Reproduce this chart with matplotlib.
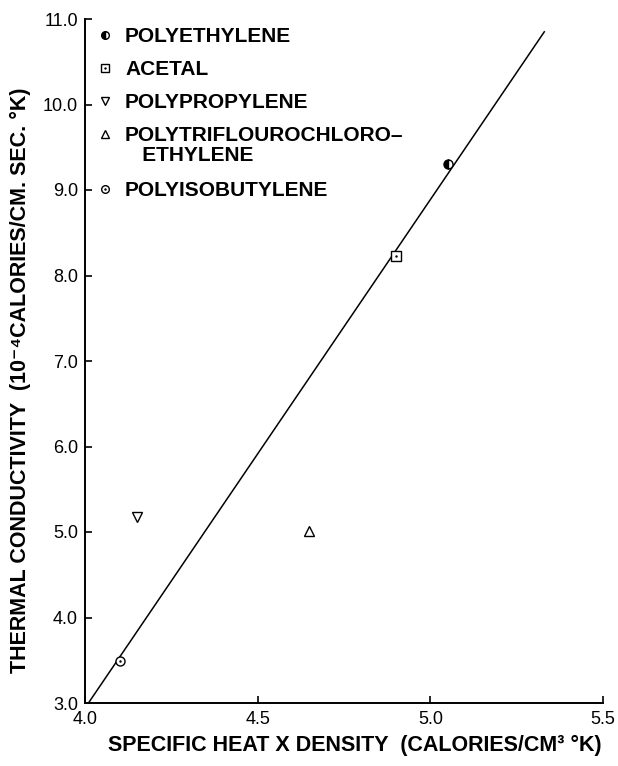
import matplotlib.pyplot as plt

# values
materials = ['POLYETHYLENE', 'ACETAL', 'POLYPROPYLENE',
             'POLYTRIFLOUROCHLORO\u2013\n   ETHYLENE', 'POLYISOBUTYLENE']
heat_x_density = [5.05, 4.90, 4.15, 4.65, 4.10]
conductivity = [9.30, 8.23, 5.18, 5.01, 3.49]
line_x = [4.01, 5.33]
line_y = [3.0, 10.85]
xticks = [4.0, 4.5, 5.0, 5.5]
yticks = [3.0, 4.0, 5.0, 6.0, 7.0, 8.0, 9.0, 10.0, 11.0]

# marker, fillstyle, dot in the middle
styles = [('o', 'left', False), ('s', 'none', True), ('v', 'none', False),
          ('^', 'none', False), ('o', 'none', True)]

W, H = 618, 766
fig = plt.figure(figsize=(W / 100, H / 100), dpi=100)
ax = fig.add_axes([85 / W, 1 - 703 / H, (603 - 85) / W, (703 - 19) / H])

fonts = ['Liberation Sans', 'DejaVu Sans']


def marker_lines(x, y, style, ms, **kw):
    m, fs, dot = style
    out = []
    if fs == 'left':
        out.append(plt.Line2D(x, y, marker=m, ms=ms, ls='none', fillstyle='left',
                              markerfacecolor='black', markerfacecoloralt='white',
                              markeredgecolor='black', mew=1.0, clip_on=False, **kw))
    else:
        out.append(plt.Line2D(x, y, marker=m, ms=ms, ls='none', markerfacecolor='white',
                              markeredgecolor='black', mew=1.0, clip_on=False, **kw))
    if dot:
        out.append(plt.Line2D(x, y, marker='.', ms=1.5, ls='none', color='black',
                              clip_on=False, **kw))
    return out


ax.plot(line_x, line_y, color='black', lw=1.1, zorder=1)
for xv, yv, st in zip(heat_x_density, conductivity, styles):
    for ln in marker_lines([xv], [yv], st, 6.5):
        ax.add_line(ln)

ax.set_xlim(4.0, 5.5)
ax.set_ylim(3.0, 11.0)
ax.set_xticks(xticks)
ax.set_xticklabels(['%.1f' % t for t in xticks])
ax.set_yticks(yticks)
ax.set_yticklabels(['%.1f' % t for t in yticks])
ax.tick_params(direction='in', length=5, width=1.2, labelsize=13)
ax.tick_params(axis='x', pad=6)
ax.tick_params(axis='y', pad=5)
for t in ax.get_xticklabels() + ax.get_yticklabels():
    t.set_family(fonts)
ax.spines['top'].set_visible(False)
ax.spines['right'].set_visible(False)
ax.spines['left'].set_linewidth(1.4)
ax.spines['bottom'].set_linewidth(1.4)

# legend block at the top left
for i, (name, st) in enumerate(zip(materials, styles)):
    yc = 35 + 33 * i + (22 if i == 4 else 0)
    lx, ly = 105 / W, 1 - yc / H
    for ln in marker_lines([lx], [ly], st, 5.5, transform=fig.transFigure):
        fig.lines.append(ln)
    fig.text(125 / W, 1 - (yc - 8) / H, name, va='top', ha='left', fontsize=15,
             linespacing=1.05, family=fonts, weight='bold')

fig.text(355 / W, 1 - 745 / H,
         'SPECIFIC HEAT X DENSITY  (CALORIES/CM\u00b3 \u00b0K)',
         ha='center', va='center', fontsize=15.5, family=fonts, weight='bold')
fig.text(20 / W, 1 - 380 / H,
         'THERMAL CONDUCTIVITY  (10\u207b\u2074CALORIES/CM. SEC. \u00b0K)',
         ha='center', va='center', rotation=90, fontsize=15.5, family=fonts,
         weight='bold')

fig.savefig('out.png', dpi=100)
